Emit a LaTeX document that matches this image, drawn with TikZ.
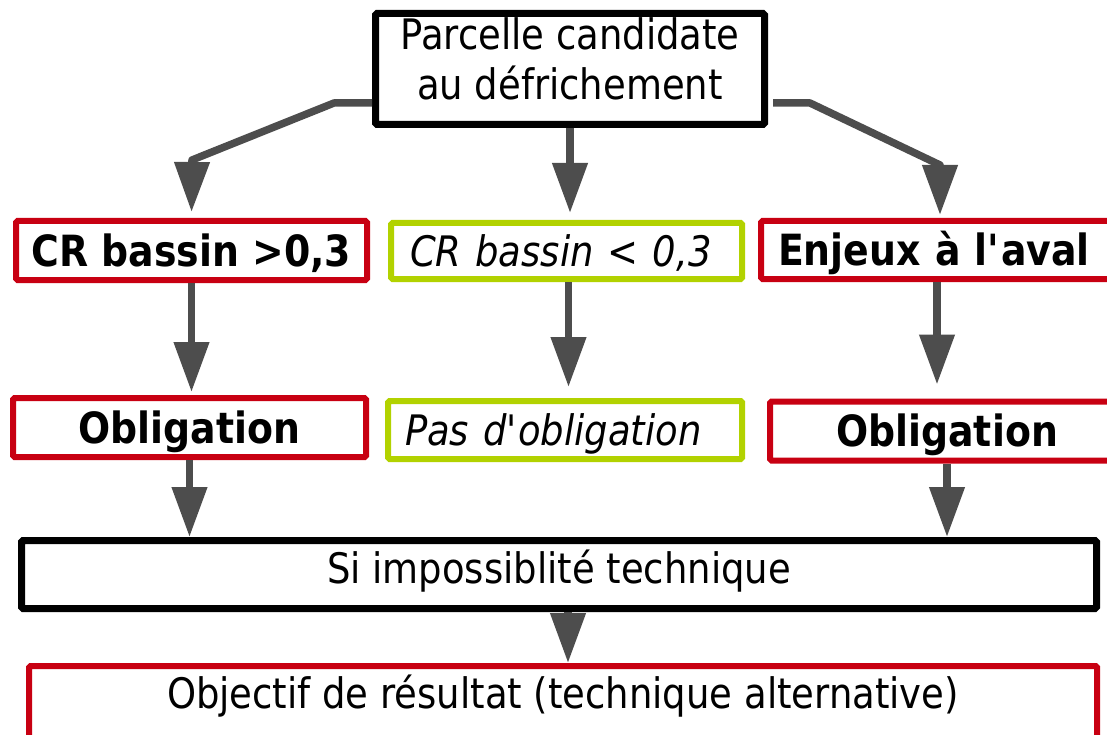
\documentclass[tikz,border=0pt]{standalone}
\usepackage{fontspec}
\setmainfont{DejaVu Sans}[FakeStretch=0.88]
\usetikzlibrary{arrows.meta}
\definecolor{cred}{RGB}{200,0,18}
\definecolor{cgreen}{RGB}{178,210,0}
\definecolor{cgray}{RGB}{77,77,77}
\begin{document}
\begin{tikzpicture}[x=1pt,y=-1pt,
  every node/.style={font=\fontsize{42}{50}\selectfont},
  box/.style={draw, line width=6pt, fill=white, rounded corners=1.5pt, inner sep=0pt, text height=31pt, text depth=0pt},
  blk/.style={box, draw=black, line width=7pt},
  redb/.style={box, draw=cred},
  grnb/.style={box, draw=cgreen, font=\fontsize{42}{50}\selectfont\itshape},
  bld/.style={font=\fontsize{43}{50}\selectfont\bfseries},
  arr/.style={draw=cgray, line width=7.5pt, line join=round, -{Triangle[width=34pt,length=50pt]}}]
\useasboundingbox (0,0) rectangle (1107,735);
\clip (0,0) rectangle (1107,735);
% top
\node[blk, minimum width=389, minimum height=111, align=center, text height=82pt, text depth=20pt] (top) at (570,69) {Parcelle candidate\\au défrichement};
% row 2
\node[redb, bld, minimum width=351, minimum height=59] (crL) at (191.5,250.5) {CR bassin >0,3};
\node[grnb, minimum height=56, text width=313, inner xsep=19pt, align=left] (g1) at (566.5,251) {CR bassin < 0,3};
\node[redb, bld, anchor=west, minimum height=58, text width=330, inner xsep=17pt, align=left] (enj) at (758,250) {Enjeux à l\textquotesingle aval};
% row 3
\node[redb, bld, minimum width=353, minimum height=59] (okL) at (189.5,427.5) {Obligation};
\node[grnb, minimum height=58, text width=320, inner xsep=17pt, align=left] (g2) at (565,430) {Pas d\textquotesingle obligation};
\node[redb, bld, minimum width=354, minimum height=59] (okR) at (947,431) {Obligation};
% row 4
\node[blk, minimum width=1075, minimum height=68, text height=31pt, text depth=14pt] (si) at (559,574.5) {Si impossiblité technique};
% row 5
\node[redb, minimum width=1068, minimum height=72, text height=31pt, text depth=19pt] (obj) at (563,702) {Objectif de résultat (technique alternative)};
% connectors
\draw[arr, shorten >=6pt] ([yshift=-34pt]top.west) -- ++(-38,0) -- (192,160) -- (crL.north);
\draw[arr, shorten >=7pt] (top.south) -- (top.south |- g1.north);
\draw[arr, shorten >=3pt] ([xshift=5pt,yshift=-34pt]top.east) -- ++(37,0) -- (940,165) -- ([xshift=-3pt]enj.north);
\draw[arr, shorten >=3pt] (crL.south) -- (crL.south |- okL.north);
\draw[arr, shorten >=11pt] ([xshift=2pt]g1.south) -- ([xshift=2pt]g1.south |- g2.north);
\draw[arr, shorten >=14pt] ([xshift=-6pt]enj.south) -- ([xshift=-6pt]enj.south |- okR.north);
\draw[arr] (okL.south) -- (okL.south |- si.north);
\draw[arr] (okR.south) -- (okR.south |- si.north);
\draw[arr] ([xshift=9pt]si.south) -- ([xshift=9pt]si.south |- obj.north);
\end{tikzpicture}
\end{document}
